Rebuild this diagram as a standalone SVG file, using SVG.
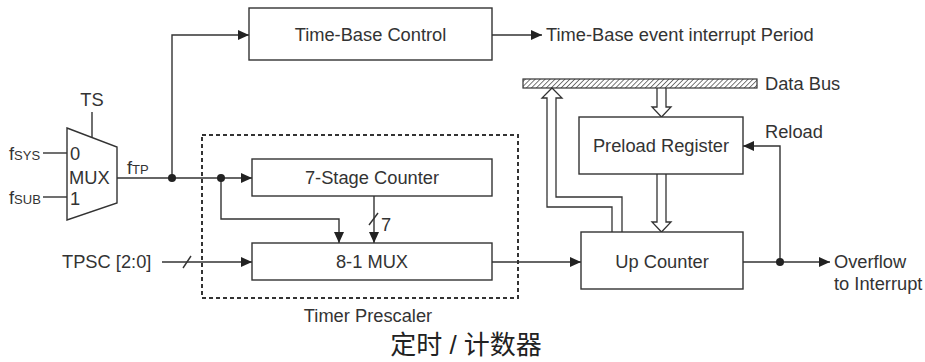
<svg xmlns="http://www.w3.org/2000/svg" width="925" height="362" viewBox="0 0 925 362">
<style>
.box{fill:#fff;stroke:#333;stroke-width:1.4}
.ln{fill:none;stroke:#333;stroke-width:1.4}
.hol{fill:#fff;stroke:#333;stroke-width:1.3;stroke-linejoin:miter}
.t{font-family:"Liberation Sans",Arial,sans-serif;font-size:18.3px;fill:#333}
.c{text-anchor:middle}
.dot{fill:#222}
</style>
<defs>
<marker id="ah" markerUnits="userSpaceOnUse" markerWidth="12" markerHeight="10" refX="11" refY="5" orient="auto">
<path d="M0,0 L11,5 L0,10 Z" fill="#222"/>
</marker>
<pattern id="hatch" patternUnits="userSpaceOnUse" width="3.5" height="3.5" patternTransform="rotate(45)">
<line x1="0" y1="0" x2="0" y2="3.5" stroke="#333" stroke-width="1.3"/>
</pattern>
</defs>

<g id="connectors">
<path class="ln" d="M43,153 H67"/>
<path class="ln" d="M43,197 H67"/>
<path class="ln" d="M92,112 V137"/>
<path class="ln" d="M117,178 H252" marker-end="url(#ah)"/>
<path class="ln" d="M172,178 V35 H249" marker-end="url(#ah)"/>
<path class="ln" d="M492,35 H542" marker-end="url(#ah)"/>
<path class="ln" d="M221,178 V219 H339 V243" marker-end="url(#ah)"/>
<path class="ln" d="M374,196 V243" marker-end="url(#ah)"/>
<path class="ln" d="M369,225 L378,213"/>
<path class="ln" d="M162,262 H252" marker-end="url(#ah)"/>
<path class="ln" d="M183,268 L191,256"/>
<path class="ln" d="M492,262 H581" marker-end="url(#ah)"/>
<path class="ln" d="M743,262 H830" marker-end="url(#ah)"/>
<path class="ln" d="M780,262 V146 H743" marker-end="url(#ah)"/>
<circle class="dot" cx="172" cy="178" r="4"/>
<circle class="dot" cx="221" cy="178" r="4"/>
<circle class="dot" cx="780" cy="262" r="4"/>
<path class="hol" d="M612,232 V207 H547 V98 H542 L552,88 L562,98 H556 V197 H622 V232"/>
<path class="hol" d="M657,88 V107 H652 L661.5,117 L671,107 H666 V88"/>
<path class="hol" d="M657,174 V222 H652 L661.5,232 L671,222 H666 V174"/>
</g>

<g id="mux">
<path class="box" d="M67,128 L117,147 L117,203 L67,220 Z"/>
<text class="t" x="70" y="160">0</text>
<text class="t" x="69" y="184">MUX</text>
<text class="t" x="70" y="205">1</text>
<text class="t c" x="92" y="106">TS</text>
<text class="t" x="9" y="160">f<tspan font-size="13">SYS</tspan></text>
<text class="t" x="9" y="204">f<tspan font-size="13">SUB</tspan></text>
<text class="t" x="127" y="174">f<tspan font-size="13">TP</tspan></text>
</g>

<g id="time-base-control">
<rect class="box" x="249" y="8" width="243" height="52"/>
<text class="t c" x="370.5" y="40.5">Time-Base Control</text>
<text class="t" x="546" y="40.5">Time-Base event interrupt Period</text>
</g>

<g id="timer-prescaler">
<rect x="202" y="135" width="316" height="163" fill="none" stroke="#333" stroke-width="2" stroke-dasharray="4 3"/>
<text class="t c" x="368" y="322">Timer Prescaler</text>
</g>

<g id="stage-counter">
<rect class="box" x="252" y="159" width="240" height="37"/>
<text class="t c" x="372" y="184">7-Stage Counter</text>
<text class="t" x="381" y="231">7</text>
</g>

<g id="mux81">
<rect class="box" x="252" y="243" width="240" height="37"/>
<text class="t c" x="372" y="268">8-1 MUX</text>
</g>

<g id="tpsc">
<text class="t" x="62" y="268">TPSC [2:0]</text>
</g>

<g id="data-bus">
<rect x="523" y="79" width="234" height="9" fill="url(#hatch)" stroke="#333" stroke-width="1.2"/>
<text class="t" x="765" y="90">Data Bus</text>
</g>

<g id="preload-register">
<rect class="box" x="579" y="117" width="164" height="57"/>
<text class="t c" x="661" y="152">Preload Register</text>
<text class="t" x="765" y="138">Reload</text>
</g>

<g id="up-counter">
<rect class="box" x="581" y="232" width="162" height="57"/>
<text class="t c" x="662" y="268">Up Counter</text>
</g>

<g id="overflow">
<text class="t" x="834" y="268">Overflow</text>
<text class="t" x="834" y="290">to Interrupt</text>
</g>

<g id="title">
<text x="466" y="354" text-anchor="middle" font-family="'Liberation Sans','Noto Sans CJK SC',sans-serif" font-size="26" fill="#222">定时 / 计数器</text>
</g>
</svg>
